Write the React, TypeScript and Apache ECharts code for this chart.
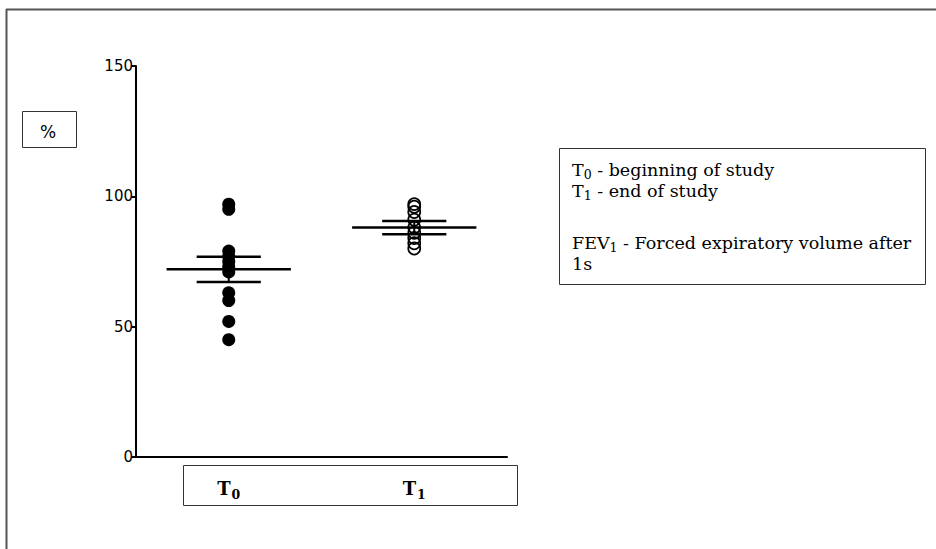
import React, { useEffect, useRef } from "react";
import * as echarts from "echarts";

const categories = ["T0", "T1"];
const subscripts = ["0", "1"];
const t0Values = [97, 95, 79, 77, 75, 73, 71, 63, 60, 52, 45];
const t1Values = [97, 96, 94, 91, 88, 86, 84, 82, 80];
const means = [72, 88];
const sems = [4.85, 2.5];
const yTicks = [0, 50, 100, 150];
const legendLines = [
  ["T", "0", " - beginning of study"],
  ["T", "1", " - end of study"],
  ["FEV", "1", " - Forced expiratory volume after"],
  ["1s", "", ""],
];

export default function App() {
  const ref = useRef<HTMLDivElement>(null);
  useEffect(() => {
    if (!ref.current) return;
    const chart = echarts.init(ref.current, null, { renderer: "svg" });
    const serif = "DejaVu Serif";
    const legendY = [168, 189, 241, 262];
    const option: any = {
      animation: false,
      backgroundColor: "#fff",
      grid: { left: 136, top: 66, width: 371, height: 391, containLabel: false },
      xAxis: {
        type: "category",
        data: categories,
        boundaryGap: true,
        axisLine: { lineStyle: { color: "#000", width: 2 } },
        axisTick: { alignWithLabel: true, length: 6, lineStyle: { color: "#000", width: 2 } },
        axisLabel: {
          margin: 20,
          formatter: (v: string, i: number) => `{b|T}{s|${subscripts[i]}}`,
          rich: {
            b: { fontFamily: serif, fontWeight: "bold", fontSize: 18, color: "#000", verticalAlign: "bottom", lineHeight: 20 },
            s: { fontFamily: serif, fontWeight: "bold", fontSize: 12.5, color: "#000", verticalAlign: "bottom", lineHeight: 14, padding: [0, 0, -4, 1] },
          },
        },
        splitLine: { show: false },
      },
      yAxis: {
        type: "value",
        min: 0,
        max: 150,
        interval: 50,
        axisLine: { show: true, lineStyle: { color: "#000", width: 2 } },
        axisTick: { show: true, length: 5, lineStyle: { color: "#000", width: 2 } },
        axisLabel: {
          margin: 3,
          color: "#000",
          fontFamily: "DejaVu Sans",
          fontSize: 15,
          formatter: (v: number) => (yTicks.includes(v) ? String(v) : ""),
        },
        splitLine: { show: false },
      },
      series: [
        {
          type: "scatter",
          data: t0Values.map((v) => [0, v]),
          symbol: "circle",
          symbolSize: 13,
          itemStyle: { color: "#000", opacity: 1 },
          z: 4,
        },
        {
          type: "scatter",
          data: t1Values.map((v) => [1, v]),
          symbol: "circle",
          symbolSize: 12,
          itemStyle: { color: "rgba(0,0,0,0)", borderColor: "#000", borderWidth: 1.7, opacity: 1 },
          z: 4,
        },
        {
          type: "custom",
          data: categories.map((c, i) => [i, means[i], sems[i]]),
          z: 5,
          renderItem: (params: any, api: any) => {
            const i = api.value(0);
            const m = api.value(1);
            const s = api.value(2);
            const band = api.size([1, 0])[0];
            const c = api.coord([i, m]);
            const hi = api.coord([i, m + s]);
            const lo = api.coord([i, m - s]);
            const hw = band * 0.335;
            const sw = band * 0.173;
            const st = { stroke: "#000", lineWidth: 2.5 };
            return {
              type: "group",
              children: [
                { type: "line", shape: { x1: c[0] - hw, y1: c[1], x2: c[0] + hw, y2: c[1] }, style: st },
                { type: "line", shape: { x1: hi[0] - sw, y1: hi[1], x2: hi[0] + sw, y2: hi[1] }, style: st },
                { type: "line", shape: { x1: lo[0] - sw, y1: lo[1], x2: lo[0] + sw, y2: lo[1] }, style: st },
                { type: "line", shape: { x1: c[0], y1: hi[1], x2: c[0], y2: lo[1] }, style: { stroke: "#000", lineWidth: 2 } },
              ],
            };
          },
        },
      ],
      graphic: [
        { type: "line", shape: { x1: 6, y1: 9.5, x2: 936, y2: 9.5 }, style: { stroke: "#555", lineWidth: 2 } },
        { type: "line", shape: { x1: 6.5, y1: 9, x2: 6.5, y2: 549 }, style: { stroke: "#555", lineWidth: 2 } },
        { type: "rect", shape: { x: 22.5, y: 111.5, width: 54, height: 36 }, style: { fill: "none", stroke: "#333", lineWidth: 1 } },
        { type: "text", x: 48, y: 132, style: { text: "%", font: "17px DejaVu Sans", fill: "#000", textAlign: "center", textVerticalAlign: "middle" } },
        { type: "rect", shape: { x: 183.5, y: 465.5, width: 334, height: 40 }, style: { fill: "none", stroke: "#333", lineWidth: 1 } },
        { type: "rect", shape: { x: 559.5, y: 148.5, width: 366, height: 136 }, style: { fill: "none", stroke: "#333", lineWidth: 1 } },
        ...legendLines.map((ln, k) => ({
          type: "text",
          x: 572,
          y: legendY[k],
          style: {
            text: `{n|${ln[0]}}` + (ln[1] ? `{s|${ln[1]}}` : "") + (ln[2] ? `{n|${ln[2]}}` : ""),
            textVerticalAlign: "middle",
            rich: {
              n: { fontFamily: serif, fontSize: 17.5, fill: "#000", color: "#000", verticalAlign: "bottom", lineHeight: 21 },
              s: { fontFamily: serif, fontSize: 12.5, fill: "#000", color: "#000", verticalAlign: "bottom", lineHeight: 15, padding: [0, 0, -2, 0] },
            },
          },
        })),
      ],
    };
    chart.setOption(option);
    return () => chart.dispose();
  }, []);
  return <div ref={ref} style={{ position: "fixed", left: 0, top: 0, width: 936, height: 549 }} />;
}
